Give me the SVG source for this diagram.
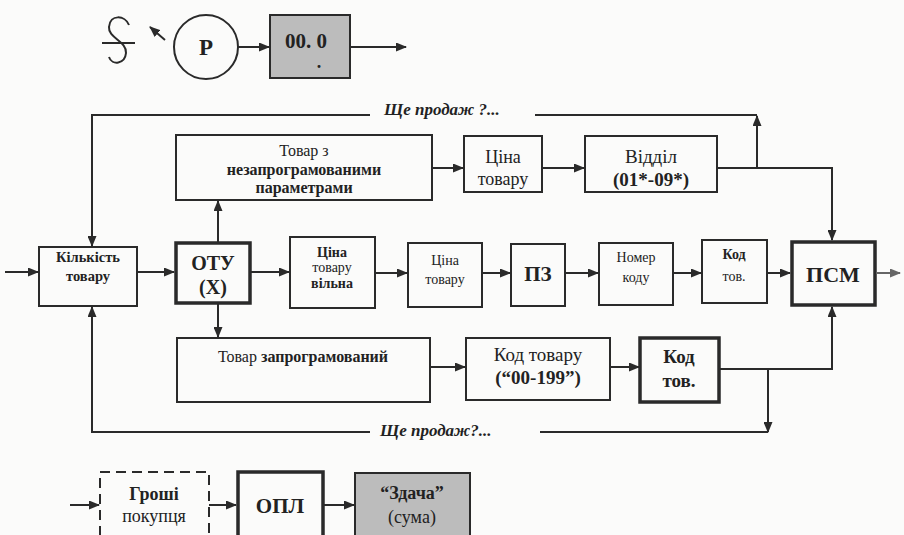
<svg xmlns="http://www.w3.org/2000/svg" width="904" height="535" viewBox="0 0 904 535" font-family="'Liberation Serif', 'DejaVu Serif', serif">
<defs>
<marker id="ah" markerWidth="11" markerHeight="9" refX="10" refY="4.5" orient="auto" markerUnits="userSpaceOnUse"><path d="M0,0 L11,4.5 L0,9 Z" fill="#2a2a2a"/></marker>
<marker id="ahg" markerWidth="11" markerHeight="9" refX="10" refY="4.5" orient="auto" markerUnits="userSpaceOnUse"><path d="M0,0 L11,4.5 L0,9 Z" fill="#666"/></marker>
</defs>
<style>
.box{fill:none;stroke:#2a2a2a;stroke-width:2}
.thick{stroke-width:3.5}
.gray{fill:#bcbcbc}
.dash{stroke-dasharray:10 6}
.ln{fill:none;stroke:#2a2a2a;stroke-width:2}
.ar{marker-end:url(#ah)}
text{font-family:'Liberation Serif','DejaVu Serif',serif;fill:#222;text-anchor:middle}
.b{font-weight:bold}
.i{font-style:italic;font-weight:bold;text-anchor:start}
</style>
<rect width="904" height="535" fill="#fbfbfa"/>

<g id="top-symbol">
<path class="ln" d="M129,25 C125,15 110,14 109,27 C108,38 127,41 126,53 C125,64 112,66 109,57"/>
<line class="ln" x1="102" y1="43" x2="135" y2="43"/>
</g>
<g id="node-P">
<circle cx="206" cy="47" r="32" class="box"/>
<text x="206" y="55" font-size="23" class="b">P</text>
</g>
<g id="node-display">
<rect x="270" y="15" width="80" height="63" class="box gray"/>
<text x="306" y="48" font-size="21" class="b">00. 0</text>
<text x="319" y="68" font-size="18" class="b">.</text>
</g>

<g id="node-tovar-z">
<rect x="176" y="135" width="256" height="65" class="box"/>
<text x="304" y="156" font-size="16">Товар з</text>
<text x="304" y="175" font-size="16" class="b">незапрограмованими</text>
<text x="304" y="193" font-size="16" class="b">параметрами</text>
</g>
<g id="node-tsina1">
<rect x="464" y="136" width="78" height="56" class="box"/>
<text x="503" y="163" font-size="18">Ціна</text>
<text x="503" y="185" font-size="18">товару</text>
</g>
<g id="node-viddil">
<rect x="585" y="136" width="132" height="56" class="box"/>
<text x="651" y="163" font-size="19">Відділ</text>
<text x="651" y="186" font-size="19" class="b">(01*-09*)</text>
</g>

<g id="node-kilkist">
<rect x="39" y="247" width="98" height="59" class="box"/>
<text x="88" y="262" font-size="14.5" class="b">Кількість</text>
<text x="88" y="281" font-size="14.5" class="b">товару</text>
</g>
<g id="node-otu">
<rect x="176" y="243" width="74" height="60" class="box thick"/>
<text x="213" y="270" font-size="20" class="b">ОТУ</text>
<text x="213" y="294" font-size="20" class="b">(X)</text>
</g>
<g id="node-tsina-vilna">
<rect x="290" y="237" width="85" height="71" class="box"/>
<text x="332" y="257" font-size="14" class="b">Ціна</text>
<text x="332" y="272" font-size="14">товару</text>
<text x="332" y="288" font-size="14" class="b">вільна</text>
</g>
<g id="node-tsina2">
<rect x="408" y="243" width="74" height="64" class="box"/>
<text x="445" y="265" font-size="14">Ціна</text>
<text x="445" y="284" font-size="14">товару</text>
</g>
<g id="node-pz">
<rect x="511" y="244" width="54" height="62" class="box"/>
<text x="538" y="281" font-size="21" class="b">ПЗ</text>
</g>
<g id="node-nomer">
<rect x="599" y="243" width="74" height="62" class="box"/>
<text x="636" y="262" font-size="14">Номер</text>
<text x="636" y="282" font-size="14">коду</text>
</g>
<g id="node-kod1">
<rect x="702" y="240" width="65" height="63" class="box"/>
<text x="734" y="259" font-size="14" class="b">Код</text>
<text x="734" y="281" font-size="14">тов.</text>
</g>
<g id="node-psm">
<rect x="792" y="242" width="83" height="63" class="box thick"/>
<text x="833" y="282" font-size="22" class="b">ПСМ</text>
</g>

<g id="node-tovar-zapr">
<rect x="177" y="338" width="253" height="64" class="box"/>
<text x="303" y="362" font-size="16">Товар <tspan class="b">запрограмований</tspan></text>
</g>
<g id="node-kod-tovaru">
<rect x="466" y="338" width="144" height="62" class="box"/>
<text x="538" y="361" font-size="19">Код товару</text>
<text x="538" y="384" font-size="19" class="b">(“00-199”)</text>
</g>
<g id="node-kod2">
<rect x="640" y="338" width="79" height="64" class="box thick"/>
<text x="679" y="363" font-size="19" class="b">Код</text>
<text x="679" y="387" font-size="19" class="b">тов.</text>
</g>

<g id="node-groshi">
<rect x="100" y="472" width="109" height="75" class="box dash"/>
<text x="154" y="500" font-size="18" class="b">Гроші</text>
<text x="154" y="522" font-size="18">покупця</text>
</g>
<g id="node-opl">
<rect x="238" y="472" width="85" height="75" class="box thick"/>
<text x="280" y="513" font-size="21" class="b">ОПЛ</text>
</g>
<g id="node-zdacha">
<rect x="355" y="473" width="115" height="75" class="box gray"/>
<text x="412" y="499" font-size="18" class="b">“Здача”</text>
<text x="412" y="523" font-size="18">(сума)</text>
</g>

<g id="labels">
<text x="384" y="115" font-size="17" class="i">Ще продаж ?...</text>
<text x="380" y="436" font-size="17" class="i">Ще продаж?...</text>
</g>

<g id="connectors">
<line class="ln ar" x1="165" y1="40" x2="150" y2="27"/>
<line class="ln ar" x1="238" y1="47" x2="269" y2="47"/>
<line class="ln ar" x1="350" y1="47" x2="406" y2="47"/>

<line class="ln" x1="535" y1="115" x2="757" y2="115"/>
<path class="ln" d="M717,168 H832 V240" marker-end="url(#ah)"/>
<path class="ln" d="M757,168 V116" marker-end="url(#ah)"/>
<path class="ln" d="M370,115 H92 V246" marker-end="url(#ah)"/>

<line class="ln ar" x1="432" y1="168" x2="463" y2="168"/>
<line class="ln ar" x1="542" y1="168" x2="584" y2="168"/>

<line class="ln ar" x1="5" y1="272" x2="38" y2="272"/>
<line class="ln ar" x1="137" y1="272" x2="174" y2="272"/>
<line class="ln ar" x1="218" y1="242" x2="218" y2="201"/>
<line class="ln ar" x1="218" y1="304" x2="218" y2="337"/>
<line class="ln ar" x1="250" y1="272" x2="289" y2="272"/>
<line class="ln ar" x1="375" y1="273" x2="407" y2="273"/>
<line class="ln ar" x1="482" y1="273" x2="510" y2="273"/>
<line class="ln ar" x1="565" y1="273" x2="598" y2="273"/>
<line class="ln ar" x1="673" y1="273" x2="701" y2="273"/>
<line class="ln ar" x1="767" y1="273" x2="790" y2="273"/>
<line x1="876" y1="273" x2="900" y2="273" stroke="#666" stroke-width="2" marker-end="url(#ahg)"/>

<line class="ln ar" x1="430" y1="367" x2="465" y2="367"/>
<line class="ln ar" x1="610" y1="367" x2="639" y2="367"/>
<path class="ln" d="M719,369 H832 V307" marker-end="url(#ah)"/>
<path class="ln" d="M768,369 V432" marker-end="url(#ah)"/>
<line class="ln" x1="540" y1="432" x2="768" y2="432"/>
<path class="ln" d="M370,432 H92 V307" marker-end="url(#ah)"/>

<line class="ln ar" x1="70" y1="505" x2="99" y2="505"/>
<line class="ln ar" x1="209" y1="505" x2="236" y2="505"/>
<line class="ln ar" x1="323" y1="505" x2="354" y2="505"/>
</g>
</svg>
